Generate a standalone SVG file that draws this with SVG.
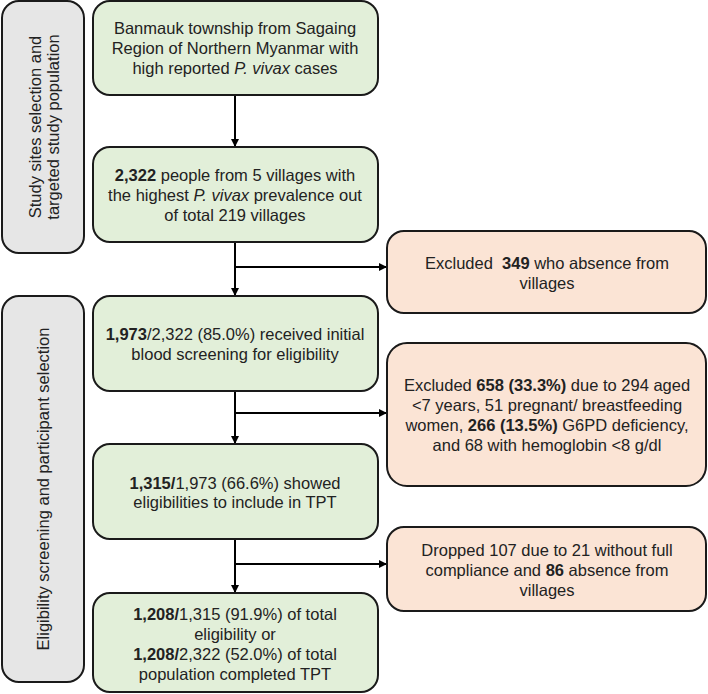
<svg xmlns="http://www.w3.org/2000/svg" width="708" height="694" viewBox="0 0 708 694">
<style>
.side{fill:#e6e6e6;stroke:#1a1a1a;stroke-width:2}
.g{fill:#e2efd9;stroke:#1a1a1a;stroke-width:2}
.p{fill:#fbe4d5;stroke:#1a1a1a;stroke-width:2}
text{font-family:"Liberation Sans",Arial,sans-serif;font-size:16.5px;fill:#222;text-anchor:middle}
.b{font-weight:bold}
.i{font-style:italic}
.c line{stroke:#000;stroke-width:2}
</style>
<defs>
<marker id="ah" markerWidth="8" markerHeight="8" refX="7" refY="4" orient="auto" markerUnits="userSpaceOnUse">
<path d="M0,0 L8,4 L0,8 Z" fill="#000"/>
</marker>
</defs>
<g id="label1">
<rect class="side" x="2" y="1" width="82" height="252" rx="17"/>
<text transform="translate(41,127) rotate(-90)"><tspan x="0" y="0">Study sites selection and</tspan><tspan x="0" y="18">targeted study population</tspan></text>
</g>
<g id="label2">
<rect class="side" x="2" y="296" width="82" height="386" rx="17"/>
<text transform="translate(49,489) rotate(-90)"><tspan x="0" y="0">Eligibility screening and participant selection</tspan></text>
</g>
<g id="connectors" class="c">
<line x1="235" y1="95" x2="235" y2="146" marker-end="url(#ah)"/>
<line x1="235" y1="242" x2="235" y2="295" marker-end="url(#ah)"/>
<line x1="235" y1="267" x2="386" y2="267" marker-end="url(#ah)"/>
<line x1="235" y1="391" x2="235" y2="443" marker-end="url(#ah)"/>
<line x1="235" y1="413" x2="386" y2="413" marker-end="url(#ah)"/>
<line x1="235" y1="539" x2="235" y2="592" marker-end="url(#ah)"/>
<line x1="235" y1="564" x2="386" y2="564" marker-end="url(#ah)"/>
</g>
<g id="box1">
<rect class="g" x="93" y="1" width="285" height="94" rx="17"/>
<text x="235" y="34">Banmauk township from Sagaing</text>
<text x="235" y="54">Region of Northern Myanmar with</text>
<text x="235" y="74">high reported <tspan class="i">P. vivax</tspan> cases</text>
</g>
<g id="box2">
<rect class="g" x="93" y="147" width="285" height="95" rx="17"/>
<text x="235" y="181"><tspan class="b">2,322</tspan> people from 5 villages with</text>
<text x="235" y="201">the highest <tspan class="i">P. vivax</tspan> prevalence out</text>
<text x="235" y="221">of total 219 villages</text>
</g>
<g id="box3">
<rect class="g" x="93" y="296" width="285" height="95" rx="17"/>
<text x="235" y="340"><tspan class="b">1,973</tspan>/2,322 (85.0%) received initial</text>
<text x="235" y="360">blood screening for eligibility</text>
</g>
<g id="box4">
<rect class="g" x="93" y="444" width="285" height="95" rx="17"/>
<text x="235" y="489"><tspan class="b">1,315/</tspan>1,973 (66.6%) showed</text>
<text x="235" y="508">eligibilities to include in TPT</text>
</g>
<g id="box5">
<rect class="g" x="93" y="593" width="285" height="99" rx="17"/>
<text x="235" y="620"><tspan class="b">1,208/</tspan>1,315 (91.9%) of total</text>
<text x="235" y="640">eligibility or</text>
<text x="235" y="660"><tspan class="b">1,208/</tspan>2,322 (52.0%) of total</text>
<text x="235" y="680">population completed TPT</text>
</g>
<g id="excl1">
<rect class="p" x="387" y="231" width="319" height="82" rx="17"/>
<text x="547" y="269">Excluded&#160; <tspan class="b">349</tspan> who absence from</text>
<text x="547" y="289">villages</text>
</g>
<g id="excl2">
<rect class="p" x="387" y="343" width="319" height="143" rx="20"/>
<text x="547" y="391">Excluded <tspan class="b">658 (33.3%)</tspan> due to 294 aged</text>
<text x="547" y="411">&lt;7 years, 51 pregnant/ breastfeeding</text>
<text x="547" y="431">women, <tspan class="b">266 (13.5%)</tspan> G6PD deficiency,</text>
<text x="547" y="451">and 68 with hemoglobin &lt;8 g/dl</text>
</g>
<g id="excl3">
<rect class="p" x="387" y="527" width="319" height="84" rx="17"/>
<text x="547" y="556">Dropped 107 due to 21 without full</text>
<text x="547" y="576">compliance and <tspan class="b">86</tspan> absence from</text>
<text x="547" y="596">villages</text>
</g>
</svg>
